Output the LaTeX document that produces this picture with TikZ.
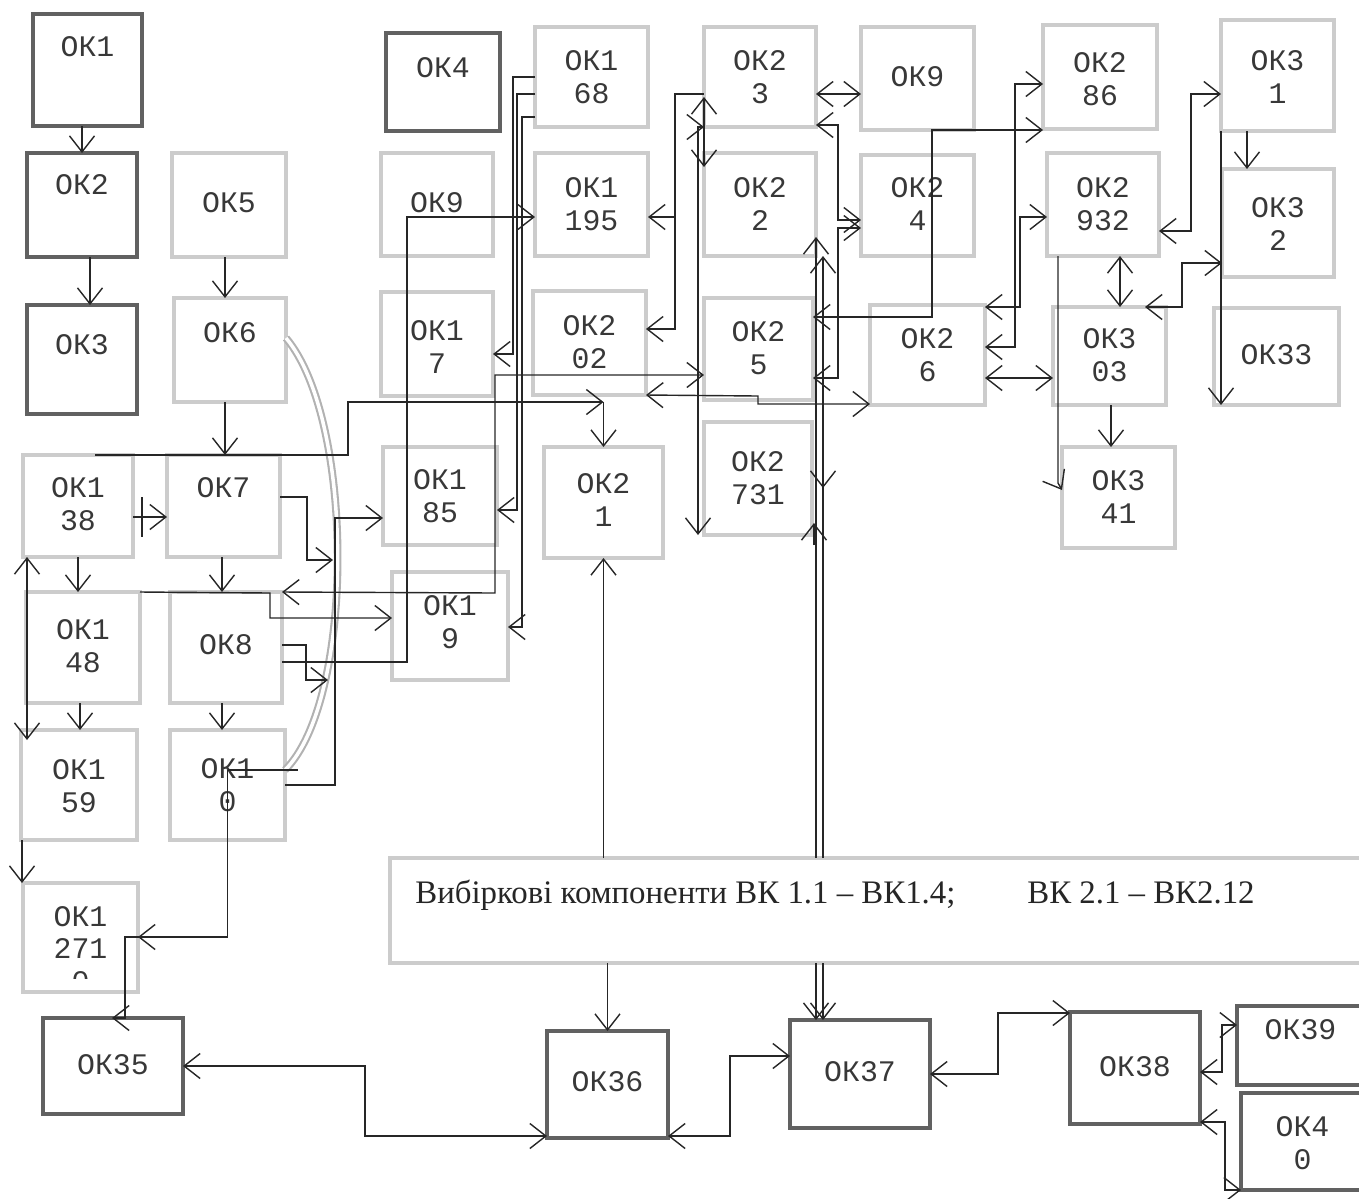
\documentclass[tikz,border=0pt]{standalone}
\usepackage{fontspec}
\usetikzlibrary{arrows.meta}
\newfontfamily\okmono{Liberation Mono}
\newfontfamily\okserif{Liberation Serif}

\begin{document}
\begin{tikzpicture}[x=0.02cm,y=-0.02cm,
  lbox/.style={draw=black!20,line width=2.4pt,inner sep=0pt,outer sep=0pt},
  dbox/.style={draw=black!62,line width=2.8pt,inner sep=0pt,outer sep=0pt},
  oktext/.style={font=\okmono\fontsize{17}{18.7}\selectfont,text=black!78,align=center,inner sep=0pt},
  vktext/.style={font=\okserif\fontsize{18.7}{22}\selectfont,text=black!85,anchor=base west,inner sep=0pt},
  wire/.style={draw=black!85,line width=0.8pt},
  link/.style={wire,-{Straight Barb[length=3.2mm,width=5mm]}},
  link2/.style={wire,{Straight Barb[length=3.2mm,width=5mm]}-{Straight Barb[length=3.2mm,width=5mm]}},
  arcline/.style={draw=black!30,line width=1.2pt,double=white,double distance=2pt}]
\useasboundingbox (0,0) rectangle (1359,1198);

% light boxes
\foreach \nm/\xa/\ya/\xb/\yb/\ty/\lab in {
  ok5/172/153/286/257/203/ОК5, ok6/174/298/286/402/333/ОК6,
  ok9a/381/153/493/256/203/ОК9, ok17/381/292/493/396/347/{ОК1\\7},
  ok168/535/27/648/127/77/{ОК1\\68}, ok1195/535/153/648/256/204/{ОК1\\195},
  ok202/533/291/646/395/342/{ОК2\\02}, ok23/704/27/816/127/77/{ОК2\\3},
  ok22/704/153/816/256/204/{ОК2\\2}, ok25/704/298/813/400/348/{ОК2\\5},
  ok9b/861/27/974/130/77/ОК9, ok24/861/155/974/256/204/{ОК2\\4},
  ok26/870/305/985/405/355/{ОК2\\6}, ok286/1043/25/1157/129/79/{ОК2\\86},
  ok2932/1047/153/1159/256/204/{ОК2\\932}, ok303/1053/307/1166/405/355/{ОК3\\03},
  ok31/1221/20/1334/131/77/{ОК3\\1}, ok32/1222/169/1334/277/224/{ОК3\\2},
  ok33/1214/308/1339/405/355/ОК33,
  ok138/23/455/133/557/504/{ОК1\\38}, ok7/167/455/280/557/488/ОК7,
  ok148/26/592/140/703/646/{ОК1\\48}, ok8/170/592/282/703/645/ОК8,
  ok159/21/730/137/840/786/{ОК1\\59}, ok10/170/730/285/840/785/{ОК1\\0},
  ok185/383/447/497/545/496/{ОК1\\85}, ok19/392/572/508/680/622/{ОК1\\9},
  ok21/544/447/663/558/500/{ОК2\\1}, ok2731/704/422/812/535/478/{ОК2\\731},
  ok341/1062/447/1175/548/497/{ОК3\\41}} {
  \node[lbox,minimum width={(\xb-\xa)*0.02cm},minimum height={(\yb-\ya)*0.02cm}] (\nm) at ({(\xa+\xb)/2},{(\ya+\yb)/2}) {};
  \node[oktext] at ({(\xa+\xb)/2},\ty) {\lab};
}
\node[lbox,minimum width={115*0.02cm},minimum height={109*0.02cm}] (ok12710) at (80.5,937.5) {};
\begin{scope}
  \clip (23,883) rectangle (138,978);
  \node[oktext] at (80.5,949) {ОК1\\271\\0};
\end{scope}

% dark boxes
\foreach \nm/\xa/\ya/\xb/\yb/\ty/\lab in {
  ok1/33/14/142/126/47/ОК1, ok2/27/153/137/257/185/ОК2, ok3/27/305/137/414/345/ОК3,
  ok4/386/33/500/131/68/ОК4, ok35/43/1018/183/1114/1065/ОК35,
  ok36/547/1031/668/1138/1082/ОК36, ok37/790/1020/930/1128/1072/ОК37,
  ok38/1070/1012/1200/1124/1067/ОК38, ok39/1237/1006/1364/1085/1030/ОК39,
  ok40/1241/1093/1364/1190/1143/{ОК4\\0}} {
  \node[dbox,minimum width={(\xb-\xa)*0.02cm},minimum height={(\yb-\ya)*0.02cm}] (\nm) at ({(\xa+\xb)/2},{(\ya+\yb)/2}) {};
  \node[oktext] at ({(\xa+\xb)/2},\ty) {\lab};
}

% selection components
\node[lbox,minimum width={976*0.02cm},minimum height={105*0.02cm}] (vk) at (878,910.5) {};
\node[vktext] (vkt1) at (415,903) {Вибіркові компоненти ВК 1.1 – ВК1.4;};
\node[vktext] (vkt2) at (1027,903) {ВК 2.1 – ВК2.12};

\draw[arcline] (ok6.east |- 0,338) .. controls (355,420) and (355,700) .. (ok10.east |- 0,770);

% left part
\draw[link] (ok1.south -| ok2.north) -- (ok2.north);
\draw[link] (ok2.south -| 90,0) -- (ok3.north -| 90,0);
\draw[link] (ok5.south -| 225,0) -- (ok6.north -| 225,0);
\draw[link] (ok6.south -| 225,0) -- (ok7.north -| 225,0);
\draw[link] (ok138.east |- 0,517) -- (ok7.west |- 0,517);
\draw[wire] (142,497) -- (142,537);
\draw[link] (ok138.south -| 78,0) -- (ok148.north -| 78,0);
\draw[link] (ok7.south -| 222,0) -- (ok8.north -| 222,0);
\draw[link] (ok148.south -| 80,0) -- (ok159.north -| 80,0);
\draw[link] (ok8.south -| 222,0) -- (ok10.north -| 222,0);
\draw[link2,shorten >=-0.2cm] (ok138.south -| 27,0) -- (ok159.north -| 27,0);
\draw[link] (ok159.south -| 22,0) -- (ok12710.north -| 22,0);
\draw[wire] (ok10.center |- 0,770) -- (298,770);
\draw[link] (ok10.center |- 0,770) |- (125,937) |- (ok35.north -| 112,0);
\draw[link] (170,937) -- (ok12710.east |- 0,937);
\draw[link] (ok10.east |- 0,785) -| (335,518) -- (ok185.west |- 0,518);
\draw[link] (ok7.east |- 0,497) -| (307,560) -- (333,560);
\draw[link] (ok8.east |- 0,645) -| (306,680) -- (328,680);
\draw[link2] (ok8.north east) -- (495,593) -- (495,375) -- (ok25.west |- 0,375);
\draw[link] (ok148.north east) -- (270,593) -- (270,618) -- (ok19.west |- 0,618);
\draw[link] (ok138.north -| 95,0) -| (348,402) -- (ok21.north |- 0,402);
\draw[link] (ok21.north |- 0,402) -- (ok21.north);
\draw[link] (ok8.east |- 0,662) -| (407,217) -- (ok1195.west |- 0,217);

% trunk from OK1 68
\draw[link] (ok168.west |- 0,77) -| (513,354) -- (ok17.east |- 0,354);
\draw[link] (ok168.west |- 0,94) -| (517,510) -- (ok185.east |- 0,510);
\draw[link] (ok168.west |- 0,117) -| (522,627) -- (ok19.east |- 0,627);

% middle part
\draw[link2] (ok202.south east) -- (758,396) -- (758,404) -- (ok26.west |- 0,404);
\draw[link2] (ok23.south west) -| (ok2731.south west -| 698,0);
\draw[link2] (ok23.west |- 0,97) -- (ok22.west |- 0,167);
\draw[link] (ok23.west |- 0,94) -| (675,329) -- (ok202.east |- 0,329);
\draw[link] (675,217) -- (ok1195.east |- 0,217);
\draw[link2] (ok23.east |- 0,94) -- (ok9b.west |- 0,94);
\draw[link2] (ok23.east |- 0,125) -| (838,220) -- (ok24.west |- 0,220);
\draw[link2] (ok24.west |- 0,228) -| (838,378) -- (ok25.east |- 0,378);
\draw[link2] (ok25.east |- 0,317) -| (932,130) -- (ok286.west |- 0,130);
\draw[link2] (ok286.west |- 0,84) -| (1015,347) -- (ok26.east |- 0,347);
\draw[link2] (ok2932.west |- 0,217) -| (1020,307) -- (ok26.east |- 0,307);
\draw[link2] (ok26.east |- 0,378) -- (ok303.west |- 0,378);

% right part
\draw[link] (ok2932.south -| 1058,0) -- (1058,483) -- (ok341.west |- 0,490);
\draw[link2] (ok2932.south -| 1120,0) -- (ok303.north -| 1120,0);
\draw[link2] (ok303.north -| 1145,0) -| (1182,263) -- (ok32.west |- 0,263);
\draw[link2] (ok2932.east |- 0,231) -| (1191,94) -- (ok31.west |- 0,94);
\draw[link] (ok31.south -| 1247,0) -- (ok32.north -| 1247,0);
\draw[link] (ok31.south west) -- (ok31.south west |- ok33.south);
\draw[link] (ok303.south -| 1111,0) -- (ok341.north -| 1111,0);

% lines to the selection components
\draw[link] (vk.north -| 816,0) -- (ok22.east |- 0,237);
\draw[link] (vk.north -| 823,0) -- (ok22.south -| 823,0);
\draw[link] (823,465) -- (823,488);
\draw[link] (814,545) -- (814,523);
\draw[link] (vk.south -| 816,0) -- (ok37.north -| 816,0);
\draw[link] (vk.south -| 823,0) -- (ok37.north -| 823,0);
\draw[link] (vk.north -| ok21.south) -- (ok21.south);
\draw[link] (vk.south -| ok36.north) -- (ok36.north);

% bottom row
\draw[link2] (ok35.east) -| (365,1136) -- (ok36.west |- 0,1136);
\draw[link2] (ok36.east |- 0,1136) -| (730,1056) -- (ok37.west |- 0,1056);
\draw[link2] (ok37.east) -| (998,1013) -- (ok38.west |- 0,1013);
\draw[link2] (ok38.east |- 0,1072) -| (1222,1025) -- (ok39.west |- 0,1025);
\draw[link2] (ok38.east |- 0,1122) -| (1225,1190) -- (ok40.west |- 0,1190);
\end{tikzpicture}
\end{document}
